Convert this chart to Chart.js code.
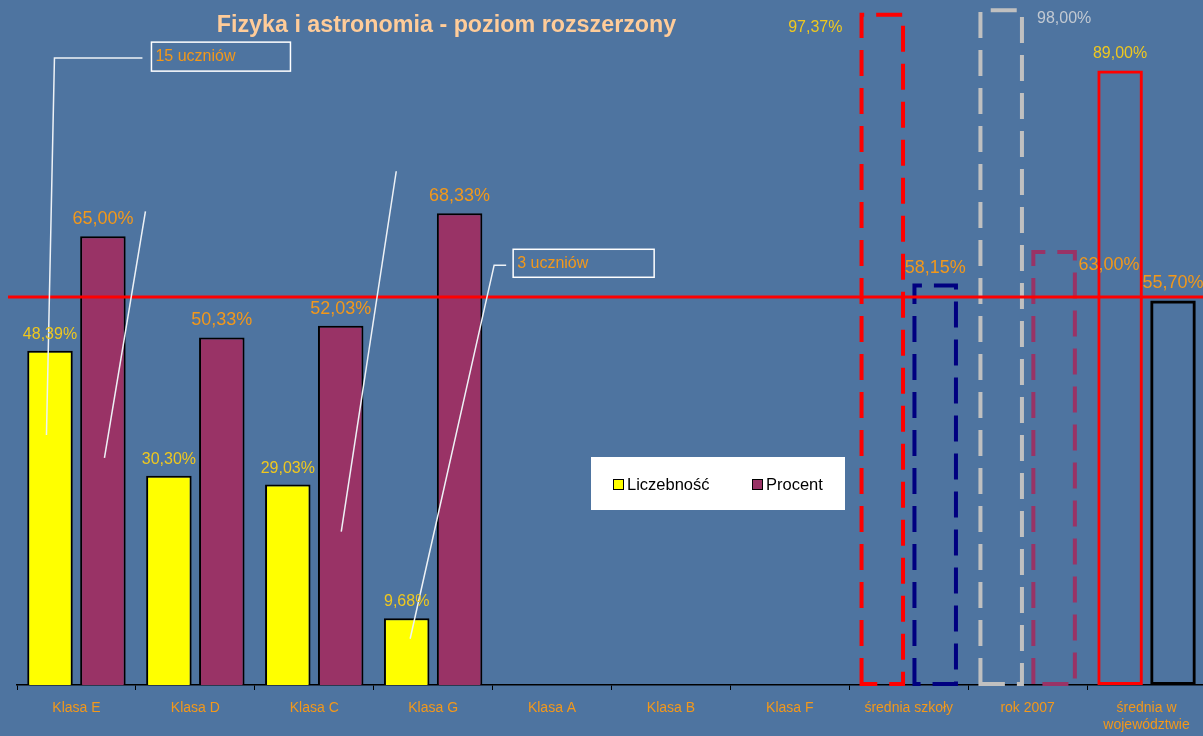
<!DOCTYPE html>
<html>
<head>
<meta charset="utf-8">
<script src="https://cdn.jsdelivr.net/npm/chart.js@4"></script>
<style>
  html, body { margin: 0; padding: 0; background: #4e74a0; overflow: hidden; }
  #wrap { width: 1206px; height: 736px; }
</style>
</head>
<body>
<div id="wrap"><canvas id="chart"></canvas></div>
<script>
// dane
const categories = ['Klasa E', 'Klasa D', 'Klasa C', 'Klasa G', 'Klasa A', 'Klasa B', 'Klasa F',
    'średnia szkoły', 'rok 2007', ['średnia w', 'województwie']];
const liczebnosc = [48.39, 30.30, 29.03, 9.68, null, null, null, null, null, null];
const procent = [65.00, 50.33, 52.03, 68.33, null, null, null, null, null, null];
const sredniaSzkoly = [97.37, 58.15];
const rok2007 = [98.00, 63.00];
const sredniaWojewodztwo = [89.00, 55.70];
const liniaOdniesienia = 56.2;

const FONT = '"Liberation Sans", Arial, sans-serif';
const ORANGE = '#f3981a';
const YELLOW = '#f0c81e';
const GREY = '#c2c9d2';

// wartosc tylko w jednej kategorii
function wKategorii(idx, value) {
    return categories.map((c, i) => i === idx ? value : null);
}

const outline = { backgroundColor: 'rgba(0,0,0,0)', borderWidth: 0 };

const datasets = [
    { label: 'Liczebność', data: liczebnosc, stack: 'a', backgroundColor: '#ffff00', borderColor: '#000', borderWidth: 2,
      lbl: { color: YELLOW, size: 16 } },
    { label: 'Procent', data: procent, stack: 'b', backgroundColor: '#993366', borderColor: '#000', borderWidth: 2,
      lbl: { color: ORANGE, size: 18 } },
    { ...outline, label: 'szk1', data: wKategorii(7, sredniaSzkoly[0]), stack: 'a', dash: '#ff0000',
      lbl: { color: YELLOW, size: 16, dx: -67, dy: 31 } },
    { ...outline, label: 'szk2', data: wKategorii(7, sredniaSzkoly[1]), stack: 'b', dash: '#000080',
      lbl: { color: ORANGE, size: 18, dy: 2 } },
    { ...outline, label: 'r1', data: wKategorii(8, rok2007[0]), stack: 'a', dash: '#c0c0c0',
      lbl: { color: GREY, size: 16, dx: 63, dy: 27 } },
    { ...outline, label: 'r2', data: wKategorii(8, rok2007[1]), stack: 'b', dash: '#993366',
      lbl: { color: ORANGE, size: 18, dx: 55, dy: 32 } },
    { ...outline, label: 'woj1', data: wKategorii(9, sredniaWojewodztwo[0]), stack: 'a', borderColor: '#ff0000', borderWidth: 3,
      borderSkipped: false, lbl: { color: YELLOW, size: 16 } },
    { ...outline, label: 'woj2', data: wKategorii(9, sredniaWojewodztwo[1]), stack: 'b', borderColor: '#000', borderWidth: 3,
      borderSkipped: false, lbl: { color: ORANGE, size: 18 } },
];

// linie odnosnikow: [kategoria, przesuniecie x, wartosc]
const odnosniki = [
    { pts: [[0, -30, 36.2], [0, -22, 90.8], [0, 66, 90.8]], box: [0, 75, 93.1, 139, 29], text: '15 uczniów' },
    { pts: [[0, 28, 32.9], [0, 69, 68.6]] },
    { pts: [[2, 27, 22.2], [2, 82, 74.4]] },
    { pts: [[3, -23, 6.7], [3, 61, 60.8], [3, 73, 60.8]], box: [3, 80, 63.1, 141, 28], text: '3 uczniów' },
];

const tloPlugin = {
    id: 'tlo',
    beforeDraw(chart) {
        const ctx = chart.ctx;
        ctx.save();
        ctx.fillStyle = '#4e74a0';
        ctx.fillRect(0, 0, chart.width, chart.height);
        ctx.restore();
    }
};

const rysunkiPlugin = {
    id: 'rysunki',
    afterDatasetsDraw(chart) {
        const ctx = chart.ctx;
        const xs = chart.scales.x, ys = chart.scales.y;
        ctx.save();

        // slupki przerywane
        chart.data.datasets.forEach((ds, di) => {
            if (!ds.dash) return;
            chart.getDatasetMeta(di).data.forEach((el, i) => {
                if (ds.data[i] == null) return;
                const p = el.getProps(['x', 'y', 'base', 'width'], true);
                const l = p.x - p.width / 2 + 2, r = p.x + p.width / 2 - 2;
                const t = p.y + 2, b = p.base - 1;
                ctx.strokeStyle = ds.dash;
                ctx.lineWidth = 4;
                ctx.setLineDash([26, 12]);
                ctx.beginPath();
                ctx.moveTo(l, b);
                ctx.lineTo(l, t);
                ctx.lineTo(r, t);
                ctx.lineTo(r, b);
                ctx.closePath();
                ctx.stroke();
            });
        });
        ctx.setLineDash([]);

        // linia odniesienia
        const ly = ys.getPixelForValue(liniaOdniesienia);
        ctx.strokeStyle = '#ff0000';
        ctx.lineWidth = 3;
        ctx.beginPath();
        ctx.moveTo(8, ly);
        ctx.lineTo(chart.width, ly);
        ctx.stroke();

        // odnosniki
        ctx.strokeStyle = '#eef2f6';
        ctx.lineWidth = 1.5;
        odnosniki.forEach(o => {
            ctx.beginPath();
            o.pts.forEach(([c, dx, v], k) => {
                const px = xs.getPixelForValue(c) + dx, py = ys.getPixelForValue(v);
                if (k === 0) ctx.moveTo(px, py); else ctx.lineTo(px, py);
            });
            ctx.stroke();
            if (o.box) {
                const [c, dx, v, w, h] = o.box;
                const bx = xs.getPixelForValue(c) + dx, by = ys.getPixelForValue(v);
                ctx.strokeStyle = '#ffffff';
                ctx.strokeRect(bx, by, w, h);
                ctx.fillStyle = ORANGE;
                ctx.font = '16px ' + FONT;
                ctx.textAlign = 'left';
                ctx.textBaseline = 'middle';
                ctx.fillText(o.text, bx + 4, by + h / 2);
                ctx.strokeStyle = '#eef2f6';
            }
        });

        // etykiety wartosci
        chart.data.datasets.forEach((ds, di) => {
            chart.getDatasetMeta(di).data.forEach((el, i) => {
                const v = ds.data[i];
                if (v == null) return;
                const o = ds.lbl;
                ctx.fillStyle = o.color;
                ctx.font = o.size + 'px ' + FONT;
                ctx.textAlign = 'center';
                ctx.textBaseline = 'alphabetic';
                ctx.fillText(v.toFixed(2).replace('.', ',') + '%', el.x + (o.dx || 0), el.y - 12 + (o.dy || 0));
            });
        });

        // legenda
        const lx = 591, ly2 = 457;
        ctx.fillStyle = '#ffffff';
        ctx.fillRect(lx, ly2, 254, 53);
        [[0, 22], [1, 161]].forEach(([di, off]) => {
            const ds = chart.data.datasets[di];
            ctx.fillStyle = ds.backgroundColor;
            ctx.fillRect(lx + off, ly2 + 22, 10, 10);
            ctx.strokeStyle = '#000';
            ctx.lineWidth = 1;
            ctx.strokeRect(lx + off + 0.5, ly2 + 22.5, 10, 10);
            ctx.fillStyle = '#000';
            ctx.font = '16.5px ' + FONT;
            ctx.textAlign = 'left';
            ctx.textBaseline = 'middle';
            ctx.fillText(ds.label, lx + off + 14, ly2 + 28);
        });

        // tytul
        ctx.fillStyle = '#ffcc99';
        ctx.font = 'bold 23.3px ' + FONT;
        ctx.textAlign = 'center';
        ctx.textBaseline = 'alphabetic';
        ctx.fillText('Fizyka i astronomia - poziom rozszerzony', 446.5, 31.5);

        ctx.restore();
    }
};

new Chart(document.getElementById('chart'), {
    type: 'bar',
    data: { labels: categories, datasets: datasets },
    options: {
        maintainAspectRatio: false,
        animation: false,
        events: [],
        categoryPercentage: 0.89,
        barPercentage: 0.86,
        layout: { padding: { left: 17, right: 0, top: 0, bottom: 0 } },
        plugins: { legend: { display: false }, tooltip: { enabled: false } },
        scales: {
            x: {
                grid: { display: true, drawOnChartArea: false, drawTicks: true, tickLength: 5, color: '#000', offset: true },
                border: { display: true, color: '#000', width: 1.5 },
                ticks: { color: ORANGE, font: { family: FONT, size: 14 }, padding: 10, autoSkip: false, maxRotation: 0 },
                afterFit(scale) { scale.height = 51; }
            },
            y: { display: false, stacked: false, min: 0, max: 99.2 }
        }
    },
    plugins: [tloPlugin, rysunkiPlugin]
});
</script>
</body>
</html>
